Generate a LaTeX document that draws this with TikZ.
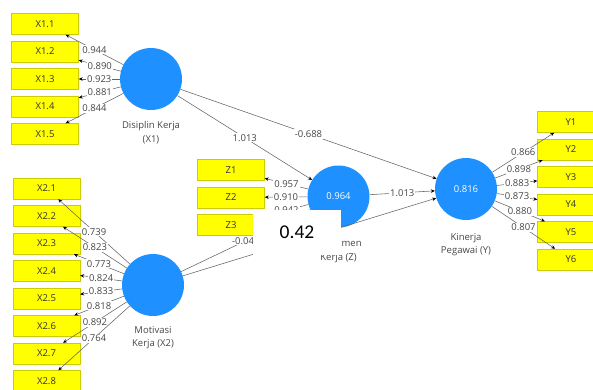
\documentclass[tikz,border=0pt]{standalone}
\usepackage{fontspec}
\setmainfont{Open Sans}
\newfontfamily\notefont{Carlito}
\usetikzlibrary{positioning,arrows.meta}
\definecolor{lvcolor}{RGB}{30,144,255}
\definecolor{indcolor}{RGB}{255,255,0}
\definecolor{linecolor}{RGB}{100,100,100}
\definecolor{labelcolor}{RGB}{70,70,70}

\begin{document}
\begin{tikzpicture}[x=1pt,y=-1pt,
    indicator/.style={rectangle, draw=indcolor!80!black, fill=indcolor, minimum width=67pt, minimum height=21pt, inner sep=0pt, text=black!80, font=\fontsize{9.5}{11}\selectfont},
    latent/.style={circle, fill=lvcolor, minimum size=62pt, inner sep=0pt, text=white, font=\fontsize{9.5}{11}\selectfont},
    lvname/.style={align=center, inner sep=0pt, text=labelcolor, font=\fontsize{9.5}{13.5}\selectfont},
    coef/.style={fill=white, inner sep=1pt, text=labelcolor, font=\fontsize{9.5}{11}\selectfont},
    link/.style={draw=linecolor, line width=0.55pt, -{Stealth[length=4pt,width=3.5pt,color=black]}}
]
\path[use as bounding box, clip] (0,0) rectangle (593,389);

% latent variables
\node[latent] (X1) at (151,79) {};
\node[latent] (X2) at (153,285) {};
\node[latent] (Z) at (338.5,196.5) {0.964};
\node[latent] (Y) at (466,189) {0.816};
\node[lvname, below=11pt of X1] {Disiplin Kerja\\(X1)};
\node[lvname, below=10pt of X2] {Motivasi\\Kerja (X2)};
\node[lvname, below=12pt of Z] {Komitmen\\Kerja (Z)};
\node[lvname, below=13pt of Y] {Kinerja\\Pegawai (Y)};

% indicators
\node[indicator] (x11) at (45,24) {X1.1};
\node[indicator] (x12) at (45,51.5) {X1.2};
\node[indicator] (x13) at (45,79) {X1.3};
\node[indicator] (x14) at (45,106.5) {X1.4};
\node[indicator] (x15) at (45,134) {X1.5};

\node[indicator] (x21) at (46.5,188.5) {X2.1};
\node[indicator] (x22) at (46.5,216) {X2.2};
\node[indicator] (x23) at (46.5,243.5) {X2.3};
\node[indicator] (x24) at (46.5,271) {X2.4};
\node[indicator] (x25) at (46.5,298.5) {X2.5};
\node[indicator] (x26) at (46.5,326) {X2.6};
\node[indicator] (x27) at (46.5,353.5) {X2.7};
\node[indicator] (x28) at (46.5,381) {X2.8};

\node[indicator] (z1) at (231,170) {Z1};
\node[indicator] (z2) at (231,197.5) {Z2};
\node[indicator] (z3) at (231,225) {Z3};

\node[indicator] (y1) at (571,122) {Y1};
\node[indicator] (y2) at (571,149.5) {Y2};
\node[indicator] (y3) at (571,177) {Y3};
\node[indicator] (y4) at (571,204.5) {Y4};
\node[indicator] (y5) at (571,232) {Y5};
\node[indicator] (y6) at (571,259.5) {Y6};

% outer loadings
\draw[link] (X1) -- node[coef] {0.944} (x11);
\draw[link] (X1) -- node[coef] {0.890} (x12);
\draw[link] (X1) -- node[coef] {0.923} (x13);
\draw[link] (X1) -- node[coef] {0.881} (x14);
\draw[link] (X1) -- node[coef] {0.844} (x15);

\draw[link] (X2) -- node[coef] {0.739} (x21);
\draw[link] (X2) -- node[coef] {0.823} (x22);
\draw[link] (X2) -- node[coef] {0.773} (x23);
\draw[link] (X2) -- node[coef] {0.824} (x24);
\draw[link] (X2) -- node[coef] {0.833} (x25);
\draw[link] (X2) -- node[coef] {0.818} (x26);
\draw[link] (X2) -- node[coef] {0.892} (x27);
\draw[link] (X2) -- node[coef] {0.764} (x28);

\draw[link] (Z) -- node[coef] {0.957} (z1);
\draw[link] (Z) -- node[coef] {0.910} (z2);
\draw[link] (Z) -- node[coef] {0.942} (z3);

\draw[link] (Y) -- node[coef] {0.866} (y1);
\draw[link] (Y) -- node[coef] {0.898} (y2);
\draw[link] (Y) -- node[coef] {0.883} (y3);
\draw[link] (Y) -- node[coef] {0.873} (y4);
\draw[link] (Y) -- node[coef] {0.880} (y5);
\draw[link] (Y) -- node[coef] {0.807} (y6);

% path coefficients
\draw[link] (X1) -- node[coef] {1.013} (Z);
\draw[link] (X1) -- node[coef] {-0.688} (Y);
\draw[link] (Z) -- node[coef] {1.013} (Y);
\draw[link] (X2) -- node[coef] {-0.04\phantom{0}} (Z);
\draw[link] (X2) -- (Y);

% R-square note on top
\node[fill=white, minimum width=88pt, minimum height=45pt, inner sep=0pt, font=\notefont\fontsize{19.5}{20}\selectfont] (scorebox) at (297,232.5) {0.42};
\end{tikzpicture}
\end{document}
